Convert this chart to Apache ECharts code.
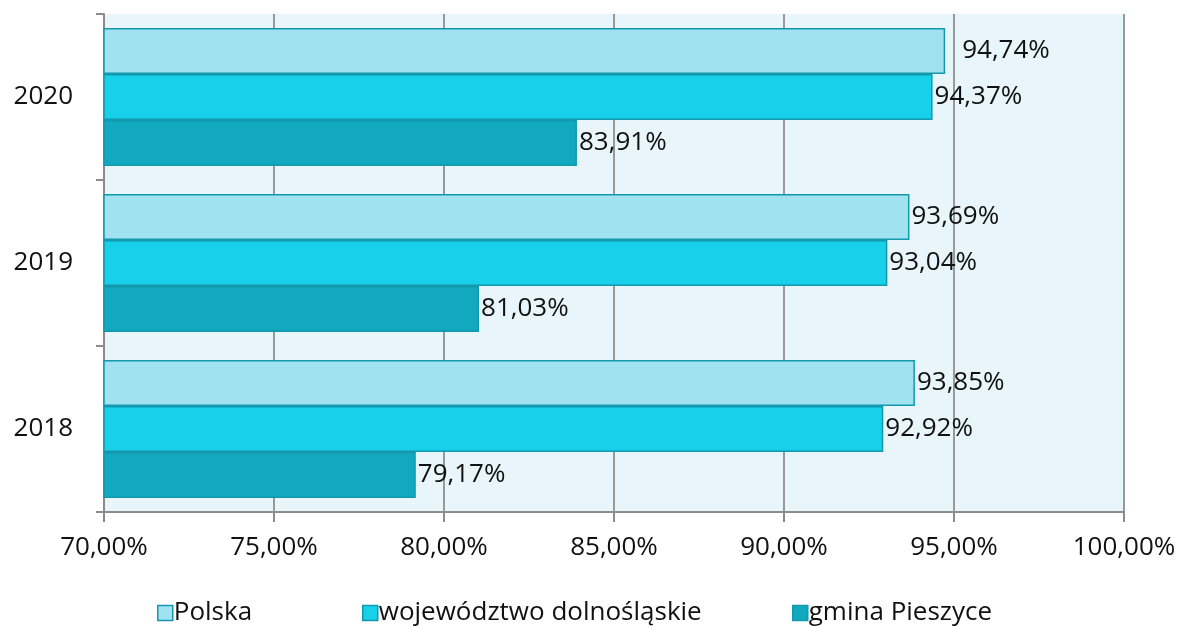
<!DOCTYPE html>
<html lang="pl">
<head>
  <meta charset="utf-8">
  <script src="https://cdn.jsdelivr.net/npm/echarts@6/dist/echarts.min.js"></script>
</head>
<body style="margin: 0; background: #fff">
  <div id="chart" style="width: 1183px; height: 627px;"></div>
  <script>
    // lata (od dołu do góry)
    const years = ['2018', '2019', '2020'];
    const polska = [93.85, 93.69, 94.74];
    const wojewodztwo = [92.92, 93.04, 94.37];
    const gmina = [79.17, 81.03, 83.91];
    const seriesNames = ['Polska', 'województwo dolnośląskie', 'gmina Pieszyce'];
    const colors = ['#a0e2f0', '#19d0ea', '#12a9c0'];

    const font = '"Open Sans", "Noto Sans", sans-serif';
    const fs = 26;
    const fmt = v => v.toFixed(2).replace('.', ',') + '%';

    const chart = echarts.init(document.getElementById('chart'));

    function makeSeries(name, values, color, z) {
      return {
        name: name,
        type: 'bar',
        data: values.map((v, i) => {
          // etykieta 94,74% stoi dalej od słupka
          if (name === 'Polska' && i === 2) {
            return { value: v, label: { distance: 17 } };
          }
          return v;
        }),
        barGap: '0%',
        barCategoryGap: '17%',
        itemStyle: { color: color, borderColor: '#1398ae', borderWidth: 1.5 },
        label: {
          show: true,
          position: 'right',
          distance: 2,
          color: '#111',
          fontSize: fs,
          fontFamily: font,
          formatter: p => fmt(p.value)
        },
        z: z
      };
    }

    const legendBase = {
      bottom: -4,
      itemWidth: 15,
      itemHeight: 15,
      icon: 'rect',
      textStyle: { fontSize: fs, fontFamily: font, color: '#111', padding: [0, 0, 0, -4] },
      itemStyle: { borderColor: '#1398ae', borderWidth: 1.5 }
    };

    chart.setOption({
      color: colors,
      animation: false,
      grid: { left: 104, right: 59, top: 14, bottom: 115, containLabel: false,
        show: true, backgroundColor: '#e8f6fb', borderWidth: 0 },
      legend: [
        Object.assign({}, legendBase, { left: 152, data: [seriesNames[0]] }),
        Object.assign({}, legendBase, { left: 357, data: [seriesNames[1]] }),
        Object.assign({}, legendBase, { left: 787, data: [seriesNames[2]] })
      ],
      xAxis: {
        type: 'value',
        min: 70,
        max: 100,
        interval: 5,
        axisLine: { show: true, lineStyle: { color: '#8c8c8c', width: 2 } },
        axisTick: { show: true, length: 10, lineStyle: { color: '#8c8c8c', width: 2 } },
        splitLine: { show: true, lineStyle: { color: '#999', width: 2 } },
        axisLabel: {
          color: '#111', fontSize: fs, fontFamily: font, margin: 23,
          formatter: v => fmt(v)
        }
      },
      yAxis: {
        type: 'category',
        data: years,
        axisLine: { show: true, lineStyle: { color: '#8c8c8c', width: 2 } },
        axisTick: { show: true, length: 8, lineStyle: { color: '#8c8c8c', width: 2 } },
        axisLabel: { color: '#111', fontSize: fs, fontFamily: font, margin: 31 }
      },
      series: [
        makeSeries(seriesNames[0], polska, colors[0], 3),
        makeSeries(seriesNames[1], wojewodztwo, colors[1], 2),
        makeSeries(seriesNames[2], gmina, colors[2], 1)
      ]
    });
  </script>
</body>
</html>
